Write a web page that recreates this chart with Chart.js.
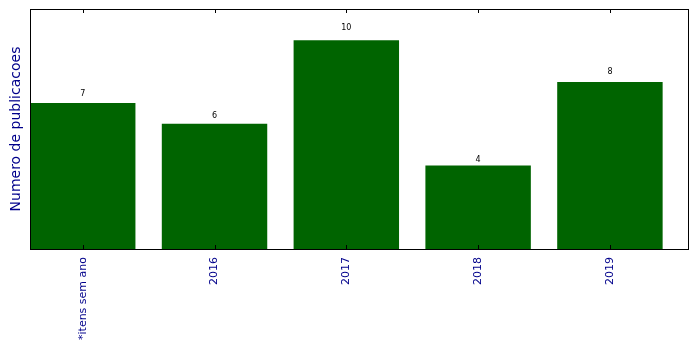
<!DOCTYPE html>
<html>
<head>
<meta charset="utf-8">
<script src="https://cdn.jsdelivr.net/npm/chart.js@4.4.0/dist/chart.umd.min.js"></script>
<style>
  html, body { margin: 0; padding: 0; background: #fff; }
  #wrap { width: 699px; height: 349px; }
</style>
</head>
<body>
<div id="wrap"><canvas id="chart"></canvas></div>
<script>
// dados
const categories = ['*itens sem ano', '2016', '2017', '2018', '2019'];
const counts = [7, 6, 10, 4, 8];
const yMax = 11.5;

const points = counts.map((v, i) => ({ x: i + 0.4, y: v }));

// moldura + marcas + rotulos de valor
const framePlugin = {
    id: 'frame',
    afterDatasetsDraw(chart) {
        const { ctx, chartArea: a, scales } = chart;
        ctx.save();
        ctx.strokeStyle = '#000';
        ctx.lineWidth = 1;
        ctx.strokeRect(a.left + 0.5, a.top + 0.5, a.right - a.left - 1, a.bottom - a.top);

        // marcas no eixo x (em cima e em baixo)
        counts.forEach((v, i) => {
            const px = Math.round(scales.x.getPixelForValue(i + 0.4)) + 0.5;
            ctx.beginPath();
            ctx.moveTo(px, a.bottom);
            ctx.lineTo(px, a.bottom - 4);
            ctx.moveTo(px, a.top);
            ctx.lineTo(px, a.top + 4);
            ctx.stroke();
        });

        // valores acima das barras (a 1.05 x valor, como no original)
        ctx.fillStyle = '#000';
        ctx.font = '8px "DejaVu Sans"';
        ctx.textAlign = 'center';
        ctx.textBaseline = 'alphabetic';
        chart.getDatasetMeta(0).data.forEach((bar, i) => {
            const ty = scales.y.getPixelForValue(counts[i] * 1.05) + 0.5;
            ctx.fillText(String(counts[i]), bar.x, ty);
        });
        ctx.restore();
    }
};

new Chart(document.getElementById('chart'), {
    type: 'bar',
    data: {
        datasets: [{
            data: points,
            backgroundColor: '#006400',
            borderWidth: 0,
            barPercentage: 0.8,
            categoryPercentage: 1
        }]
    },
    options: {
        responsive: true,
        maintainAspectRatio: false,
        animation: false,
        layout: { padding: { top: 9, right: 10, left: 0, bottom: 0 } },
        plugins: {
            legend: { display: false },
            tooltip: { enabled: false }
        },
        scales: {
            x: {
                type: 'linear',
                min: 0,
                max: 5,
                offset: false,
                grid: { display: false },
                border: { display: false },
                afterBuildTicks(scale) {
                    scale.ticks = categories.map((c, i) => ({ value: i + 0.4 }));
                },
                afterFit(scale) { scale.height = 100; },
                ticks: {
                    color: '#00008b',
                    font: { family: 'DejaVu Sans', size: 11 },
                    minRotation: 90,
                    maxRotation: 90,
                    autoSkip: false,
                    padding: 0,
                    callback: (val, idx) => categories[idx]
                }
            },
            y: {
                min: 0,
                max: yMax,
                grid: { display: false },
                border: { display: false },
                ticks: { display: false },
                afterFit(scale) { scale.width = 30; },
                title: {
                    display: true,
                    text: 'Numero de publicacoes',
                    color: '#00008b',
                    font: { family: 'DejaVu Sans', size: 14 },
                    padding: { top: 8, bottom: 0 }
                }
            }
        }
    },
    plugins: [framePlugin]
});
</script>
</body>
</html>
